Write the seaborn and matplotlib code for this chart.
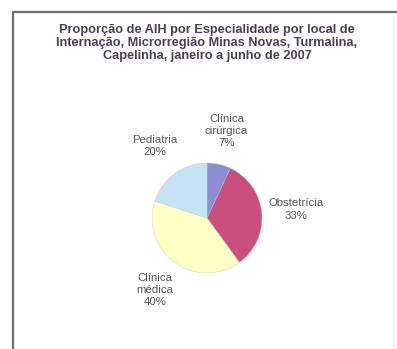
import matplotlib
matplotlib.use("Agg")
import matplotlib.pyplot as plt
from matplotlib.lines import Line2D
import seaborn as sns

sns.set_theme(style="white")
plt.rcParams["font.family"] = ["Liberation Sans", "DejaVu Sans"]

# Share of hospital admissions (AIH) by specialty
categories = ["Clínica\ncirúrgica", "Obstetrícia", "Clínica\nmédica", "Pediatria"]
shares = [7, 33, 40, 20]
colors = ["#8E8ED6", "#C9507C", "#FFFFC6", "#C6E3F3"]

title = ("Proporção de AIH por Especialidade por local de\n"
         "Internação, Microrregião Minas Novas, Turmalina,\n"
         "Capelinha, janeiro a junho de 2007")

W, H = 397, 349
fig = plt.figure(figsize=(W / 100, H / 100), dpi=100)
fig.patch.set_facecolor("white")

# frame of the chart area
fig.add_artist(Line2D([13 / W, 13 / W], [0, 1 - 12 / H], color="#6E6E6E", lw=1.6))
fig.add_artist(Line2D([13 / W, 1], [1 - 12 / H, 1 - 12 / H], color="#6E6E6E", lw=1.6))
fig.add_artist(Line2D([393 / W, 393 / W], [0, 1 - 16 / H], color="#E4E4E4", lw=0.8))

fig.text(207 / W, 1 - 43 / H, title, ha="center", va="center",
         fontsize=9.2, fontweight="bold", color="#4A3F55", linespacing=1.15)

cx, cy, r = 207, 218, 55
ax = fig.add_axes([(cx - r) / W, (H - cy - r) / H, 2 * r / W, 2 * r / H])
labels = [f"{c}\n{v}%" for c, v in zip(categories, shares)]
wedges, texts = ax.pie(shares, labels=labels, colors=colors, startangle=90,
                       counterclock=False, labeldistance=1.62,
                       wedgeprops=dict(edgecolor="#C8C8C8", linewidth=0.3),
                       textprops=dict(fontsize=8.2, color="#555555"))
for t in texts:
    t.set_ha("center")
    t.set_va("center")
    t.set_linespacing(1.3)
ax.set_xlim(-1, 1)
ax.set_ylim(-1, 1)
ax.axis("off")

fig.savefig("out.png", dpi=100, facecolor="white")
